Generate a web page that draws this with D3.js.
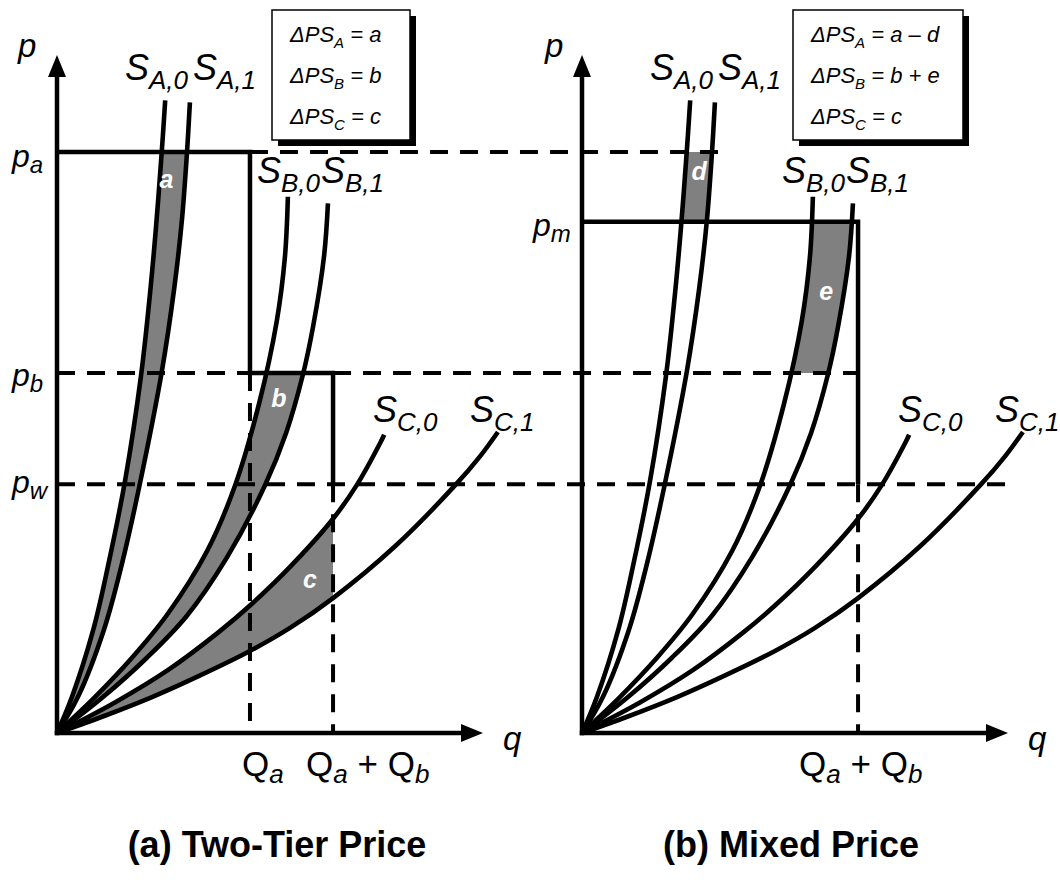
<!DOCTYPE html>
<html>
<head>
<meta charset="utf-8">
<script src="https://cdn.jsdelivr.net/npm/d3@7"></script>
<style>
  html, body { margin: 0; padding: 0; background: #fff; }
  text { font-family: "Liberation Sans", Arial, Helvetica, sans-serif; }
</style>
</head>
<body>
<script>
// ---------------- DATA (q, p) ----------------
const sA0 = [[0,0],[3.5,5.3],[8.5,15.2],[12.0,24.7],[16.0,37.3],[19.7,52.6],[21.8,64.6],[23.2,74.3],[24.6,85.8],[25.4,93.3]];
const sA1 = [[0,0],[4.9,5.3],[11.0,15.2],[15.3,25.1],[19.3,36.3],[24.6,53.3],[27.5,65.5],[29.3,75.5],[30.5,85.5],[31.2,93.0]];
const sB0 = [[0,0],[8.9,5.3],[17.6,11.1],[25.8,17.4],[35.2,26.8],[41.8,36.5],[47.4,48.5],[51.6,60.8],[53.5,70.2],[54.2,79.1]];
const sB1 = [[0,0],[10.8,5.3],[21.1,11.1],[30.5,17.3],[39.9,25.9],[48.8,36.5],[53.8,44.3],[57.7,52.8],[60.1,59.9],[62.7,70.4],[63.6,78.1]];
const sC0 = [[0,0],[13.6,4.5],[26.1,9.3],[37.8,14.8],[45.3,18.8],[54.7,24.5],[64.8,31.6],[70.4,36.6],[75.8,42.7],[76.8,44.0]];
const sC1 = [[0,0],[10.6,2.4],[22.3,5.3],[33.6,8.5],[45.3,12.1],[54.7,15.5],[64.8,19.9],[79.3,27.5],[93.7,36.7],[99.3,40.8],[103.5,44.4]];

const curves = [sA0, sA1, sB0, sB1, sC0, sC1];
const curveSubs = ["A,0", "A,1", "B,0", "B,1", "C,0", "C,1"];

const priceNames  = ["a", "m", "b", "w"];
const priceValues = [85.7, 75.4, 53.1, 36.7];
const [pA, pM, pB, pW] = priceValues;

const qNames  = ["Qa", "Qab"];
const qValues = [45.3, 64.8];
const [Qa, Qab] = qValues;
const pAdashEnd = 33.1;   // q (panel b) where the p_a dashed guide stops

const boxLeftRows  = [["A", "a"], ["B", "b"], ["C", "c"]];
const boxRightRows = [["A", "a \u2013 d"], ["B", "b + e"], ["C", "c"]];
const titles = ["(a) Two-Tier Price", "(b) Mixed Price"];

// ---------------- SCALES ----------------
const W = 1060, H = 880;
const xL = d3.scaleLinear().domain([0, 100]).range([57, 483]);
const xR = d3.scaleLinear().domain([0, 100]).range([582, 1008]);
const y  = d3.scaleLinear().domain([0, 100]).range([733, 55]);

const svg = d3.select("body").append("svg").attr("width", W).attr("height", H);
const defs = svg.append("defs");

const FONT = '"Liberation Sans", Arial, Helvetica, sans-serif';
const GRAY = "#808080";

function lineGen(x) {
  return d3.line().x(d => x(d[0])).y(d => y(d[1])).curve(d3.curveCatmullRom.alpha(0.5));
}
function band(x, c0, c1) {
  const lg = lineGen(x);
  return lg(c0) + "L" + lg(c1.slice().reverse()).slice(1) + "Z";
}
function clip(id, x0, y0, x1, y1) {
  defs.append("clipPath").attr("id", id).append("rect")
    .attr("x", x0).attr("y", y0).attr("width", x1 - x0).attr("height", y1 - y0);
  return "url(#" + id + ")";
}

// ---------------- SHADED AREAS ----------------
const gFill = svg.append("g");
gFill.append("path").attr("d", band(xL, sA0, sA1)).attr("fill", GRAY)
  .attr("clip-path", clip("cA", 0, y(pA), 530, y(0) + 3));
gFill.append("path").attr("d", band(xL, sB0, sB1)).attr("fill", GRAY)
  .attr("clip-path", clip("cB", 0, y(pB), 530, y(0) + 3));
gFill.append("path").attr("d", band(xL, sC0, sC1)).attr("fill", GRAY)
  .attr("clip-path", clip("cC", 0, 0, xL(Qab), y(0) + 3));
gFill.append("path").attr("d", band(xR, sA0, sA1)).attr("fill", GRAY)
  .attr("clip-path", clip("cD", 530, y(pA), W, y(pM)));
gFill.append("path").attr("d", band(xR, sB0, sB1)).attr("fill", GRAY)
  .attr("clip-path", clip("cE", 530, y(pM), W, y(pB)));

// ---------------- DASHED GUIDES ----------------
const dashed = [
  [xL(Qa), y(pA), xR(pAdashEnd), y(pA)],
  [xL(0), y(pB), xL(Qa), y(pB)],
  [xL(Qab), y(pB), xR(Qab), y(pB)],
  [xL(0), y(pW), xR(100), y(pW)],
  [xL(Qa), y(pB), xL(Qa), y(0)],
  [xL(Qab), y(pW), xL(Qab), y(0)],
  [xR(Qab), y(pW), xR(Qab), y(0)]
];
svg.append("g").selectAll("line").data(dashed).join("line")
  .attr("x1", d => d[0]).attr("y1", d => d[1]).attr("x2", d => d[2]).attr("y2", d => d[3])
  .attr("stroke", "#000").attr("stroke-width", 4).attr("stroke-dasharray", "18,12");

// ---------------- SUPPLY CURVES ----------------
[xL, xR].forEach(x => {
  svg.append("g").selectAll("path").data(curves).join("path")
    .attr("d", lineGen(x)).attr("fill", "none")
    .attr("stroke", "#000").attr("stroke-width", 4.6);
});

// ---------------- PRICE SCHEDULES ----------------
svg.append("path")
  .attr("d", `M${xL(0)},${y(pA)}H${xL(Qa)}V${y(pB)}H${xL(Qab)}V${y(pW)}`)
  .attr("fill", "none").attr("stroke", "#000").attr("stroke-width", 4.5).attr("stroke-linejoin", "miter");
svg.append("path")
  .attr("d", `M${xR(0)},${y(pM)}H${xR(Qab)}V${y(pW)}`)
  .attr("fill", "none").attr("stroke", "#000").attr("stroke-width", 4.5).attr("stroke-linejoin", "miter");

// ---------------- AXES ----------------
[xL, xR].forEach(x => {
  const gy = svg.append("g").attr("transform", `translate(${x(0)},0)`)
    .call(d3.axisLeft(y).tickValues([]).tickSizeOuter(0));
  gy.select(".domain").attr("d", `M0,${y(0) + 2.25}V${y(100) + 12}`)
    .attr("stroke", "#000").attr("stroke-width", 4.5);
  const gx = svg.append("g").attr("transform", `translate(0,${y(0)})`)
    .call(d3.axisBottom(x).tickValues([]).tickSizeOuter(0));
  gx.select(".domain").attr("d", `M${x(0) - 2.25},0H${x(100) - 12}`)
    .attr("stroke", "#000").attr("stroke-width", 4.5);
  svg.append("path")
    .attr("d", `M${x(0)},${y(100)}L${x(0) - 9},${y(100) + 22}L${x(0) + 9},${y(100) + 22}Z`)
    .attr("fill", "#000");
  svg.append("path")
    .attr("d", `M${x(100)},${y(0)}L${x(100) - 22},${y(0) - 9}L${x(100) - 22},${y(0) + 9}Z`)
    .attr("fill", "#000");
});

// ---------------- TEXT HELPERS ----------------
function subLabel(x0, y0, parts, anchor) {
  const t = svg.append("text").attr("x", x0).attr("y", y0)
    .attr("text-anchor", anchor || "start").style("font-family", FONT).attr("fill", "#000");
  parts.forEach(p => {
    t.append("tspan").attr("dy", p[3] || 0)
      .style("font-size", p[1] + "px")
      .style("font-style", p[2] ? "italic" : "normal")
      .style("font-weight", p[4] ? "bold" : "normal")
      .text(p[0]);
  });
  return t;
}

// axis name labels
[xL, xR].forEach(x => {
  subLabel(x(0) - 39 + (x === xR ? 2 : 0), 57, [["p", 33, true]]);
  subLabel(x(100) + 20, 750, [["q", 33, true]]);
});

// price labels
subLabel(12, y(pA) + 15, [["p", 32, true], [priceNames[0], 24, true, 6]]);
subLabel(12, y(pB) + 13, [["p", 32, true], [priceNames[2], 24, true, 6]]);
subLabel(12, y(pW) + 9,  [["p", 32, true], [priceNames[3], 24, true, 6]]);
subLabel(xR(0) - 49, y(pM) + 14, [["p", 32, true], [priceNames[1], 24, true, 6]]);

// quantity labels
subLabel(xL(Qa) - 8, 776, [["Q", 35, false], ["a", 26, true, 7]]);
subLabel(xL(Qab) - 27, 776, [["Q", 35, false], ["a", 26, true, 7], [" + ", 35, false, -7], ["Q", 35, false], ["b", 26, true, 7]]);
subLabel(xR(Qab) - 59, 776, [["Q", 35, false], ["a", 26, true, 7], [" + ", 35, false, -7], ["Q", 35, false], ["b", 26, true, 7]]);

// supply curve labels
const labelPos = [[125, 80], [193, 80], [257, 183], [321, 183], [373, 422], [470, 422]];
[0, 525].forEach(off => {
  curveSubs.forEach((s, i) => {
    subLabel(labelPos[i][0] + off, labelPos[i][1], [["S", 36, true], [s, 26, true, 9]]);
  });
});

// area letters
const areaLetters = [
  ["a", xL, 25.7, 188], ["b", xL, 52.1, 407], ["c", xL, 59.4, 588],
  ["d", xR, 27.5, 180], ["e", xR, 57.3, 300]
];
areaLetters.forEach(d => {
  svg.append("text").attr("x", d[1](d[2])).attr("y", d[3])
    .attr("text-anchor", "middle").attr("fill", "#fff")
    .style("font-family", FONT).style("font-size", "25px")
    .style("font-weight", "bold").style("font-style", "italic").text(d[0]);
});

// ---------------- LEGEND BOXES ----------------
function legendBox(bx, by, bw, bh, rows) {
  svg.append("rect").attr("x", bx + 6).attr("y", by + 6).attr("width", bw).attr("height", bh).attr("fill", "#000");
  svg.append("rect").attr("x", bx).attr("y", by).attr("width", bw).attr("height", bh)
    .attr("fill", "#fff").attr("stroke", "#000").attr("stroke-width", 1.5);
  rows.forEach((r, i) => {
    subLabel(bx + 18, by + 32 + i * 41,
      [["\u0394PS", 22, true], [r[0], 15, true, 6], [" = " + r[1], 22, true, -6]]);
  });
}
legendBox(272, 10, 138, 130, boxLeftRows);
legendBox(793, 10, 170, 130, boxRightRows);

// ---------------- TITLES ----------------
[[titles[0], 277], [titles[1], 791]].forEach(t => {
  svg.append("text").attr("x", t[1]).attr("y", 857).attr("text-anchor", "middle")
    .style("font-family", FONT).style("font-size", "36px").style("font-weight", "bold").text(t[0]);
});
</script>
</body>
</html>
